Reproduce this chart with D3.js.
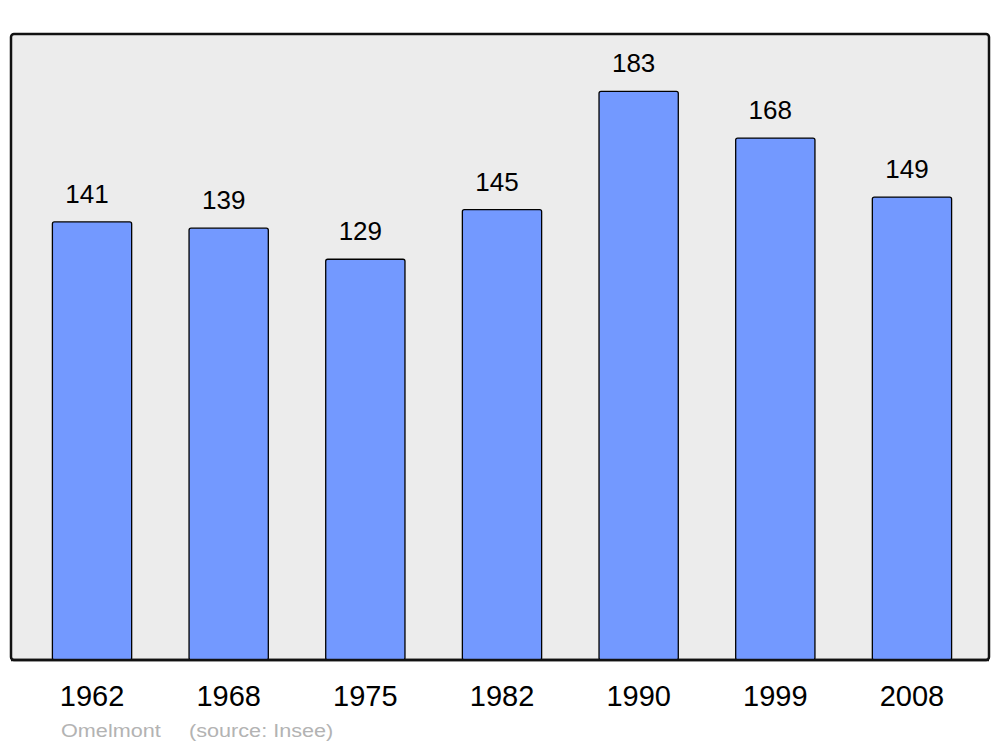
<!DOCTYPE html>
<html>
<head>
<meta charset="utf-8">
<script src="https://cdn.jsdelivr.net/npm/d3@7"></script>
<style>
  body { margin: 0; background: #fff; }
  text { font-family: "Liberation Sans", Arial, sans-serif; }
</style>
</head>
<body>
<div id="chart"></div>
<script>
const years = ['1962', '1968', '1975', '1982', '1990', '1999', '2008'];
const population = [141, 139, 129, 145, 183, 168, 149];
const place = 'Omelmont';
const source = '(source: Insee)';

const svg = d3.select('#chart')
    .append('svg')
    .attr('width', 1000)
    .attr('height', 747);

// Panel
const panel = {left: 11, right: 989, top: 34, bottom: 660};

svg.append('rect')
    .attr('x', panel.left)
    .attr('y', panel.top)
    .attr('width', panel.right - panel.left)
    .attr('height', panel.bottom - panel.top)
    .attr('rx', 3)
    .attr('fill', '#ececec')
    .attr('stroke', '#111')
    .attr('stroke-width', 2.5);

// Scales
const xScale = d3.scaleBand()
    .domain(years)
    .range([23.7, 980.3]);

const yScale = d3.scaleLinear()
    .domain([0, 201.5])
    .range([panel.bottom, panel.top]);

const bw = xScale.bandwidth();
const barW = bw * 0.58;
const data = years.map((y, i) => ({year: y, value: population[i]}));

// Bars
svg.selectAll('.bar')
    .data(data)
    .enter()
    .append('rect')
    .attr('class', 'bar')
    .attr('x', d => xScale(d.year) + (bw - barW) / 2)
    .attr('y', d => yScale(d.value))
    .attr('width', barW)
    .attr('height', d => panel.bottom - yScale(d.value))
    .attr('rx', 2)
    .attr('fill', '#7399ff')
    .attr('stroke', '#000')
    .attr('stroke-width', 1.3);

// redraw panel bottom edge over bars
svg.append('line')
    .attr('x1', panel.left)
    .attr('x2', panel.right)
    .attr('y1', panel.bottom)
    .attr('y2', panel.bottom)
    .attr('stroke', '#111')
    .attr('stroke-width', 2.5);

// Value labels
svg.selectAll('.label')
    .data(data)
    .enter()
    .append('text')
    .attr('class', 'label')
    .attr('x', d => xScale(d.year) + bw / 2 - 5)
    .attr('y', d => yScale(d.value) - 19)
    .attr('text-anchor', 'middle')
    .style('font-size', '26px')
    .attr('fill', '#000')
    .text(d => d.value);

// Year axis labels
svg.append('g')
    .attr('transform', `translate(0, 706)`)
    .call(d3.axisBottom(xScale).tickSize(0).tickPadding(0))
    .call(g => g.select('.domain').remove())
    .selectAll('text')
    .attr('dy', 0)
    .attr('y', 0)
    .style('font-size', '29px')
    .style('font-family', '"Liberation Sans", Arial, sans-serif')
    .attr('fill', '#000');

// Footer (text is horizontally stretched in the original)
svg.append('text')
    .attr('transform', 'translate(61, 737) scale(1.17, 1)')
    .style('font-size', '18.5px')
    .attr('fill', '#b3b3b3')
    .text(place);

svg.append('text')
    .attr('transform', 'translate(189, 737) scale(1.17, 1)')
    .style('font-size', '18.5px')
    .attr('fill', '#b3b3b3')
    .text(source);
</script>
</body>
</html>
